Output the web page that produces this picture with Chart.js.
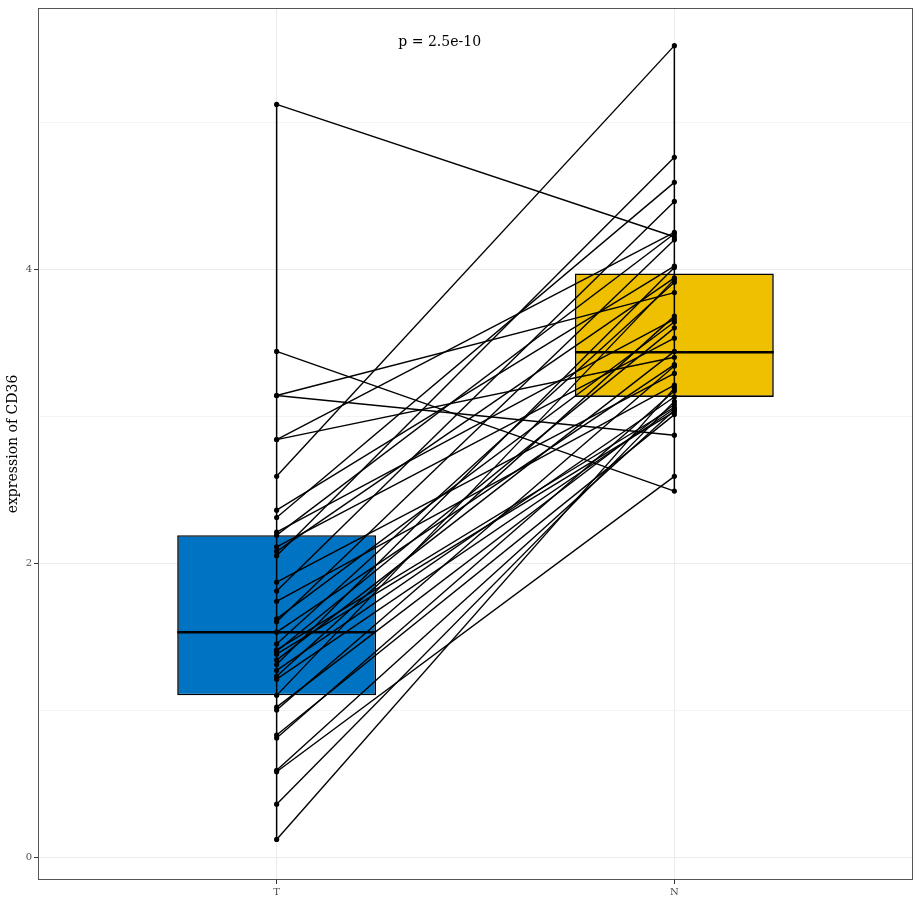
<!DOCTYPE html>
<html>
<head>
<meta charset="utf-8">
<script src="https://cdn.jsdelivr.net/npm/chart.js@4.4.1/dist/chart.umd.min.js"></script>
<style>
  html, body { margin: 0; padding: 0; background: #fff; }
  #wrap { width: 921px; height: 921px; }
</style>
</head>
<body>
<div id="wrap"><canvas id="myChart"></canvas></div>
<script>
// paired samples: tumour (T) and normal (N), same order
var groups = ['T', 'N'];
var tValues = [5.12, 3.44, 3.14, 3.14, 2.84, 2.84, 2.59, 2.36, 2.31, 2.21,
               2.19, 2.11, 2.08, 2.05, 1.87, 1.81, 1.74, 1.62, 1.60, 1.53,
               1.45, 1.41, 1.40, 1.38, 1.34, 1.31, 1.27, 1.23, 1.21, 1.10,
               1.02, 1.00, 0.83, 0.81, 0.59, 0.58, 0.36, 0.12];
var nValues = [4.22, 2.49, 3.84, 2.87, 3.40, 4.25, 5.52, 4.02, 4.59, 3.66,
               4.24, 3.53, 3.94, 4.76, 3.29, 4.46, 3.21, 3.64, 4.20, 3.35,
               3.91, 3.06, 3.60, 3.03, 3.44, 4.01, 3.13, 3.68, 3.05, 3.93,
               3.08, 3.34, 3.01, 3.17, 3.04, 2.59, 3.10, 3.19];
// box stats
var boxQ1 = [1.10, 3.13];
var boxMedian = [1.53, 3.435];
var boxQ3 = [2.19, 3.97];
var boxColors = ['#0073C2', '#EFC000'];
var pLabel = 'p = 2.5e-10';

var FONT = "'DejaVu Serif', serif";

var datasets = [];

// boxes
datasets.push({
    type: 'bar',
    data: groups.map(function(g, i) { return { x: i + 1, y: [boxQ1[i], boxQ3[i]] }; }),
    backgroundColor: boxColors,
    borderColor: '#000',
    borderWidth: 1.6,
    borderSkipped: false,
    barPercentage: 0.5,
    categoryPercentage: 1,
    order: 5
});

// medians
groups.forEach(function(g, i) {
    datasets.push({
        type: 'line',
        data: [{ x: i + 1 - 0.25, y: boxMedian[i] }, { x: i + 1 + 0.25, y: boxMedian[i] }],
        borderColor: '#000',
        borderWidth: 2.5,
        pointRadius: 0,
        order: 4
    });
});

// vertical range lines
[tValues, nValues].forEach(function(vals, i) {
    datasets.push({
        type: 'line',
        data: [{ x: i + 1, y: Math.min.apply(null, vals) }, { x: i + 1, y: Math.max.apply(null, vals) }],
        borderColor: '#000',
        borderWidth: 1.5,
        pointRadius: 0,
        order: 3
    });
});

// paired lines
for (var i = 0; i < tValues.length; i++) {
    datasets.push({
        type: 'line',
        data: [{ x: 1, y: tValues[i] }, { x: 2, y: nValues[i] }],
        borderColor: '#000',
        borderWidth: 1.4,
        pointRadius: 0,
        order: 2
    });
}

// points
[tValues, nValues].forEach(function(vals, i) {
    datasets.push({
        type: 'scatter',
        data: vals.map(function(v) { return { x: i + 1, y: v }; }),
        backgroundColor: '#000',
        borderColor: '#000',
        pointRadius: 2.6,
        pointBorderWidth: 0,
        order: 1
    });
});

var frame = {
    id: 'frame',
    afterDraw: function(chart) {
        var ctx = chart.ctx, a = chart.chartArea;
        ctx.save();
        ctx.strokeStyle = '#555';
        ctx.lineWidth = 1;
        ctx.strokeRect(a.left + 0.5, a.top + 0.5, a.right - a.left - 1, a.bottom - a.top - 1);
        ctx.fillStyle = '#000';
        ctx.font = "14px " + FONT;
        ctx.textAlign = 'center';
        ctx.textBaseline = 'middle';
        ctx.fillText(pLabel, chart.scales.x.getPixelForValue(1.41), chart.scales.y.getPixelForValue(5.54));
        ctx.restore();
    }
};

var ctx = document.getElementById('myChart').getContext('2d');
var myChart = new Chart(ctx, {
    type: 'scatter',
    data: { datasets: datasets },
    plugins: [frame],
    options: {
        responsive: true,
        maintainAspectRatio: false,
        animation: false,
        layout: { padding: { left: 0, top: 7, right: 8, bottom: 0 } },
        plugins: { legend: { display: false }, tooltip: { enabled: false } },
        scales: {
            x: {
                type: 'linear',
                min: 0.4,
                max: 2.6,
                offset: false,
                afterBuildTicks: function(scale) {
                    scale.ticks = [{ value: 1 }, { value: 2 }];
                },
                afterFit: function(scale) { scale.height = 41; },
                ticks: {
                    color: '#4d4d4d',
                    font: { family: FONT, size: 10 },
                    padding: 2,
                    callback: function(v) { return groups[v - 1]; }
                },
                grid: { offset: false, color: '#ebebeb', tickColor: '#333', tickLength: 4 },
                border: { display: false }
            },
            y: {
                min: -0.156,
                max: 5.776,
                afterBuildTicks: function(scale) {
                    scale.ticks = [0, 1, 2, 3, 4, 5].map(function(v) { return { value: v }; });
                },
                afterFit: function(scale) { scale.width = 38; },
                ticks: {
                    color: '#4d4d4d',
                    font: { family: FONT, size: 10 },
                    padding: 2,
                    callback: function(v) { return v % 2 === 0 ? String(v) : ''; }
                },
                grid: {
                    color: function(c) { return c.tick && c.tick.value % 2 === 0 ? '#ebebeb' : '#f4f4f4'; },
                    tickColor: function(c) { return c.tick && c.tick.value % 2 === 0 ? '#333' : 'rgba(0,0,0,0)'; },
                    tickLength: 4
                },
                border: { display: false },
                title: {
                    display: true,
                    text: 'expression of CD36',
                    color: '#000',
                    font: { family: FONT, size: 14 },
                    padding: { top: 5, bottom: 0 }
                }
            }
        }
    }
});
</script>
</body>
</html>
